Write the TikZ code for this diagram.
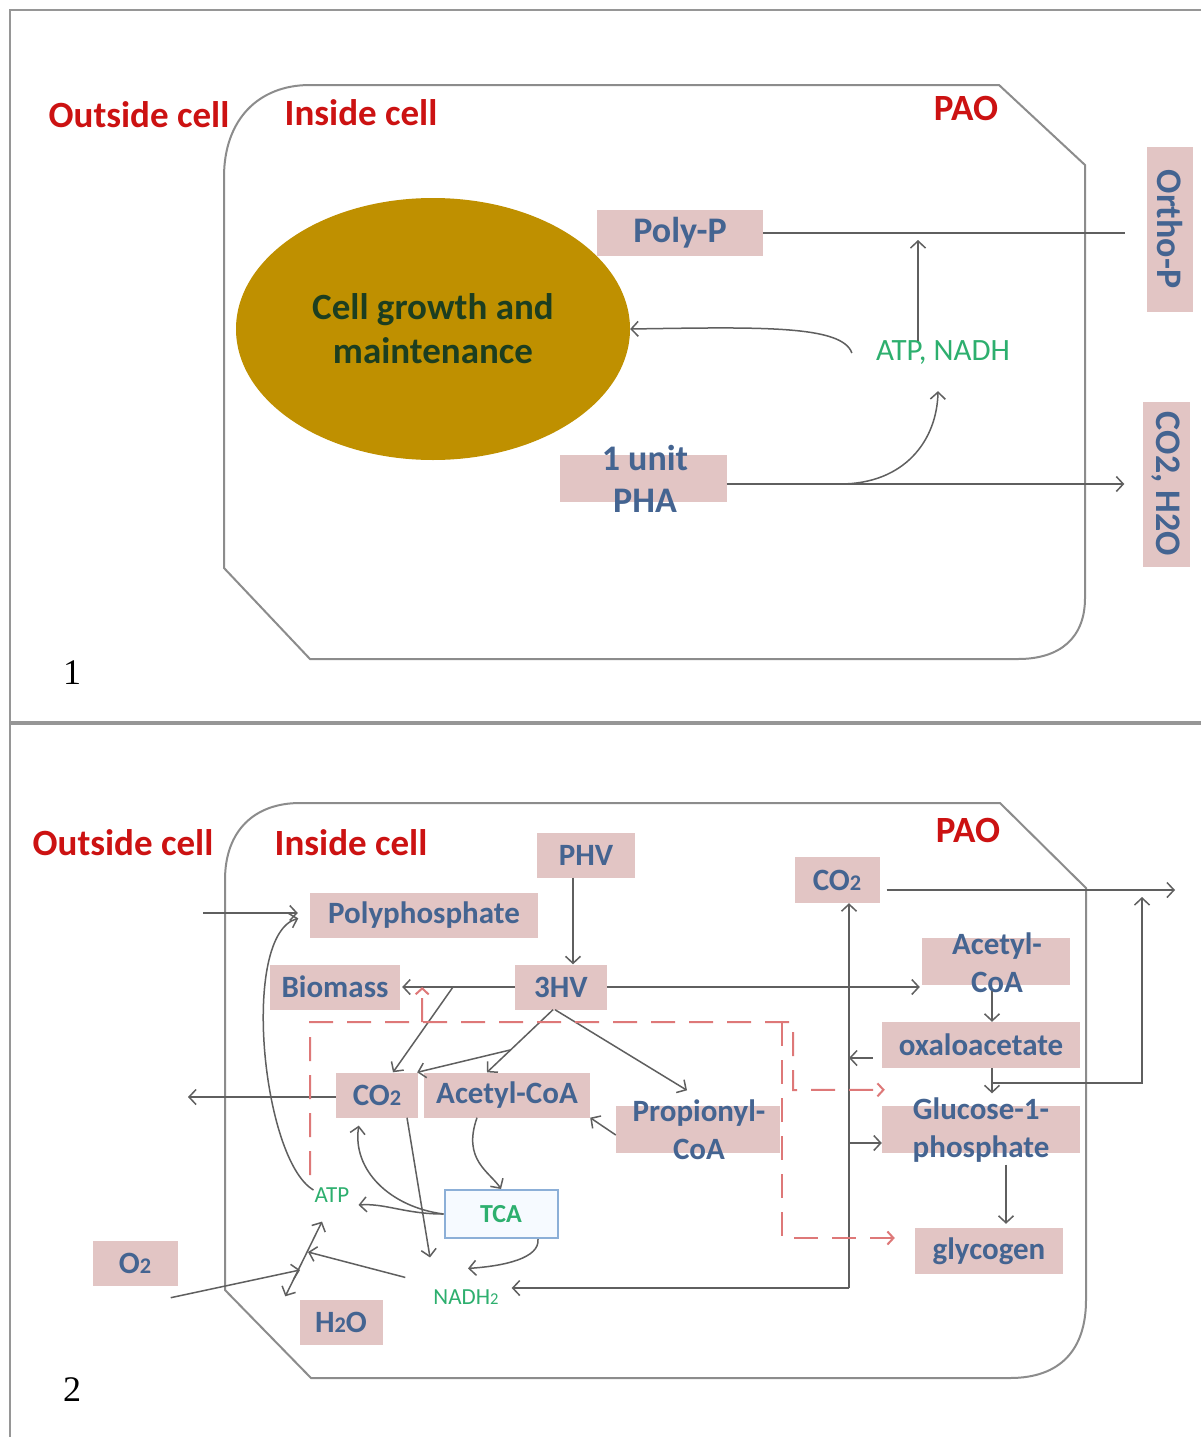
\documentclass[tikz,border=0pt]{standalone}
\usepackage{fontspec}
\setmainfont{Carlito}
\newfontfamily\numfont{Liberation Serif}
\usetikzlibrary{arrows.meta,shapes.geometric}
\definecolor{boxpink}{RGB}{226,197,196}
\definecolor{boxblue}{RGB}{68,100,145}
\definecolor{cellred}{RGB}{204,18,18}
\definecolor{leafgreen}{RGB}{45,175,110}
\definecolor{goldfill}{RGB}{191,144,0}
\definecolor{growthtxt}{RGB}{28,62,32}
\definecolor{wire}{RGB}{95,95,95}
\definecolor{membrane}{RGB}{140,140,140}
\definecolor{framegray}{RGB}{150,150,150}
\definecolor{dashred}{RGB}{222,120,120}
\definecolor{tcaedge}{RGB}{140,175,215}
\definecolor{tcafill}{RGB}{246,250,255}
\newcommand\subtwo{\scalebox{0.72}{2}}
\begin{document}
\begin{tikzpicture}[x=1pt,y=-1pt,
  arr/.style={draw=wire, line width=1.5pt, -{Straight Barb[length=7pt,width=15pt]}},
  dblarr/.style={draw=wire, line width=1.5pt, {Straight Barb[length=7pt,width=15pt]}-{Straight Barb[length=7pt,width=15pt]}},
  link/.style={draw=wire, line width=1.5pt},
  membr/.style={draw=membrane, line width=2pt},
  pbox/.style={fill=boxpink, inner sep=0pt, text=boxblue, align=center},
  bigtxt/.style={font=\fontsize{36}{42}\selectfont\bfseries},
  boxtxt/.style={font=\fontsize{31}{38}\selectfont\bfseries},
  txtonly/.style={inner sep=0pt, text=boxblue, align=center},
  cellname/.style={inner sep=0pt, text=cellred, font=\fontsize{37}{40}\selectfont\bfseries},
  energy/.style={inner sep=0pt, text=leafgreen, font=\fontsize{31}{36}\selectfont},
  energysm/.style={inner sep=1pt, text=leafgreen, font=\fontsize{23}{26}\selectfont},
  reddash/.style={draw=dashred, line width=2pt, dash pattern=on 24pt off 14pt},
  redarr/.style={reddash, -{Straight Barb[length=6pt,width=13pt]}},
  panelno/.style={inner sep=0pt, font=\numfont\fontsize{36}{40}\selectfont}
]
\useasboundingbox (0,0) rectangle (1201,1437);
\fill[white] (0,0) rectangle (1201,1437);

% panel frames
\draw[framegray, line width=2pt] (1201,10) -- (10,10) -- (10,1437);
\draw[framegray, line width=3.5pt] (10,723) -- (1201,723);

% ---------------- panel 1 ----------------
\draw[membr] (224,568) -- (224,177) .. controls (224,120) and (258,85) .. (310,85)
  -- (999,85) -- (1085,165) -- (1085,598) .. controls (1085,638) and (1060,659) .. (1018,659)
  -- (310,659) -- cycle;

\node[cellname] (outside1) at (139,115) {Outside cell};
\node[cellname] (inside1) at (361,113) {Inside cell};
\node[cellname] (pao1) at (966,108) {PAO};

\node[ellipse, fill=goldfill, minimum width=394pt, minimum height=262pt, inner sep=0pt,
  text=growthtxt, align=center, font=\fontsize{37}{44}\selectfont\bfseries]
  (growth) at (433,329) {Cell growth and\\maintenance};

\node[pbox, bigtxt, minimum width=166pt, minimum height=46pt] (polyp) at (680,233) {Poly-P};
\node[pbox, bigtxt, rotate=-90, minimum width=165pt, minimum height=46pt] (orthop) at (1170,229) {Ortho-P};
\node[pbox, bigtxt, rotate=-90, minimum width=165pt, minimum height=47pt] (co2h2o) at (1166,484) {CO2, H2O};
\node[pbox, minimum width=167pt, minimum height=47pt] (pha) at (643,478) {};
\node[txtonly, bigtxt] (phatext) at (645,479) {1 unit\\PHA};
\node[energy] (atpnadh) at (943,353) {ATP, NADH};

\node[panelno] (num1) at (72,673) {1};

\coordinate (atphead) at (918,240);
\coordinate (phasplit) at (840,484);
\draw[link, shorten >=22pt] (polyp.east) -- (polyp.east -| orthop.south);
\draw[arr] (atpnadh.north -| atphead) -- (atphead);
\draw[arr] ([xshift=-24pt]atpnadh.west) .. controls (842,325) and (760,327) .. (growth.east);
\draw[arr, shorten >=18pt] ([yshift=-6pt]pha.east) -- ([yshift=-6pt]pha.east -| co2h2o.south);
\draw[arr] (phasplit) .. controls (905,484) and (937,440) .. ([xshift=-5pt,yshift=-26pt]atpnadh.south);

% ---------------- panel 2 ----------------
\draw[membr] (225,1290) -- (225,880) .. controls (225,830) and (255,803) .. (300,803)
  -- (1000,803) -- (1086,888) -- (1086,1300) .. controls (1086,1350) and (1060,1378) .. (1010,1378)
  -- (311,1378) -- cycle;

\node[cellname] (outside2) at (123,843) {Outside cell};
\node[cellname] (inside2) at (351,843) {Inside cell};
\node[cellname] (pao2) at (968,830) {PAO};

\node[pbox, boxtxt, minimum width=98pt, minimum height=45pt] (phv) at (586,855) {PHV};
\node[pbox, boxtxt, minimum width=228pt, minimum height=45pt] (polyph) at (424,915) {Polyphosphate};
\node[pbox, boxtxt, minimum width=130pt, minimum height=45pt] (biomass) at (335,987) {Biomass};
\node[pbox, boxtxt, minimum width=92pt, minimum height=45pt] (hv3) at (561,987) {3HV};
\node[pbox, boxtxt, minimum width=85pt, minimum height=46pt] (co2top) at (837,880) {CO\subtwo};
\node[pbox, minimum width=148pt, minimum height=47pt] (acetylRbox) at (996,961) {};
\node[txtonly, boxtxt] (acetylRtext) at (997,963) {Acetyl-\\CoA};
\node[pbox, boxtxt, minimum width=198pt, minimum height=46pt] (oxalo) at (981,1045) {oxaloacetate};
\node[pbox, minimum width=198pt, minimum height=47pt] (glucbox) at (981,1129) {};
\node[txtonly, boxtxt] (gluctext) at (981,1130) {Glucose-1-\\phosphate};
\node[pbox, boxtxt, minimum width=148pt, minimum height=46pt] (glycogen) at (989,1251) {glycogen};
\node[pbox, boxtxt, minimum width=82pt, minimum height=45pt] (co2mid) at (377,1095) {CO\subtwo};
\node[pbox, boxtxt, minimum width=166pt, minimum height=45pt] (acetylM) at (507,1095) {Acetyl-CoA};
\node[pbox, minimum width=164pt, minimum height=47pt] (propbox) at (698,1129) {};
\node[txtonly, boxtxt] (proptext) at (699,1130) {Propionyl-\\CoA};
\node[draw=tcaedge, line width=2pt, fill=tcafill, text=leafgreen, inner sep=0pt,
  minimum width=113pt, minimum height=48pt, font=\fontsize{26}{30}\selectfont\bfseries]
  (tca) at (501,1214) {TCA};
\node[energysm] (atp) at (332,1195) {ATP};
\node[energysm] (nadh) at (466,1297) {NADH\subtwo};
\node[pbox, boxtxt, minimum width=85pt, minimum height=45pt] (o2) at (135,1263) {O\subtwo};
\node[pbox, boxtxt, minimum width=83pt, minimum height=45pt] (h2o) at (341,1322) {H\subtwo O};

\node[panelno] (num2) at (72,1390) {2};

% free ends and junctions
\coordinate (pin) at (203,913);
\coordinate (bm1) at (453,987);
\coordinate (ac1) at (510,1050);
\coordinate (ox1) at (992,1083);
\coordinate (up1) at (1142,897);
\coordinate (co2out) at (1175,890);
\coordinate (cB) at (849,1288);
\coordinate (co2l) at (188,1097);
\coordinate (xc) at (308,1252);
\coordinate (o2end) at (300,1270);

% phosphate uptake
\draw[arr, shorten >=12pt] (pin) -- (pin -| polyph.west);
\draw[arr, shorten >=12pt] ([yshift=5pt]atp.west) .. controls (262,1160) and (240,935) .. (polyph.west);

% PHV degradation
\draw[arr] ([xshift=-13pt]phv.south) -- ([xshift=12pt]hv3.north);
\draw[arr, shorten >=2pt] (hv3.west) -- (biomass.east);
\draw[arr] (bm1) -- ([xshift=16pt]co2mid.north);
\draw[arr] ([xshift=-8pt]hv3.south) -- ([xshift=-20pt]acetylM.north);
\draw[arr] (ac1) -- ([xshift=-1pt]co2mid.north east);
\draw[arr] ([xshift=-6pt]hv3.south) -- ([xshift=-11pt,yshift=15pt]propbox.north);
\draw[arr, shorten >=2pt] (hv3.east) -- (hv3.east -| acetylRbox.west);

% glyoxylate / gluconeogenesis branch
\draw[arr] ([xshift=-4pt,yshift=-6pt]acetylRbox.south) -- ([xshift=11pt]oxalo.north);
\draw[arr] ([xshift=11pt]oxalo.south) -- ([xshift=11pt,yshift=12pt]glucbox.north);
\draw[arr] (ox1) -- (ox1 -| up1) -- (up1);
\draw[arr] ([xshift=7pt,yshift=-10pt]co2top.east) -- (co2out);
\draw[arr] (cB) -- ([xshift=12pt]co2top.south);
\draw[arr] (cB) -- ([xshift=12pt,yshift=9pt]nadh.east);
\draw[arr] ([xshift=-9pt,yshift=-13pt]oxalo.west) -- ([yshift=-13pt]oxalo.west -| cB);
\draw[arr] ([yshift=-14pt]glucbox.west -| cB) -- ([yshift=-14pt]glucbox.west);
\draw[arr] ([xshift=25pt,yshift=-12pt]glucbox.south) -- ([xshift=17pt,yshift=4pt]glycogen.north);

% TCA cycle and respiration
\draw[arr] ([yshift=-2pt]co2mid.west) -- (co2l);
\draw[arr] ([xshift=-30pt]acetylM.south) .. controls (462,1160) and (490,1172) .. (tca.north);
\draw[arr] ([yshift=-6pt]propbox.west) -- (acetylM.south east);
\draw[arr, shorten >=8pt] (tca.west) .. controls (390,1207) and (352,1170) .. ([xshift=-17pt]co2mid.south);
\draw[arr] (tca.west) .. controls (405,1214) and (385,1203) .. ([xshift=8pt,yshift=-10pt]atp.east);
\draw[arr] ([xshift=30pt]co2mid.south) -- ([xshift=-36pt,yshift=31pt]nadh.north);
\draw[arr] ([xshift=37pt]tca.south) .. controls (540,1258) and (505,1266) .. ([xshift=2pt,yshift=20pt]nadh.north);
\draw[arr] ([xshift=-27pt,yshift=11pt]nadh.north west) -- (xc);
\draw[dblarr] ([xshift=-14pt,yshift=3pt]h2o.north west) -- ([xshift=-10pt,yshift=-18pt]atp.south);
\draw[arr] ([xshift=-7pt,yshift=-12pt]o2.south east) -- (o2end);

% red dashed regulation
\draw[redarr] (310,1175) -- (310,1022) -- (793,1022) -- (793,1090) -- ([xshift=3pt,yshift=15.5pt]glucbox.north west);
\draw[redarr] (782,1022) -- (782,1238) -- ([xshift=-20pt,yshift=13pt]glycogen.west);
\draw[redarr] (422,1022) -- ([xshift=22pt]biomass.east);
\end{tikzpicture}
\end{document}
